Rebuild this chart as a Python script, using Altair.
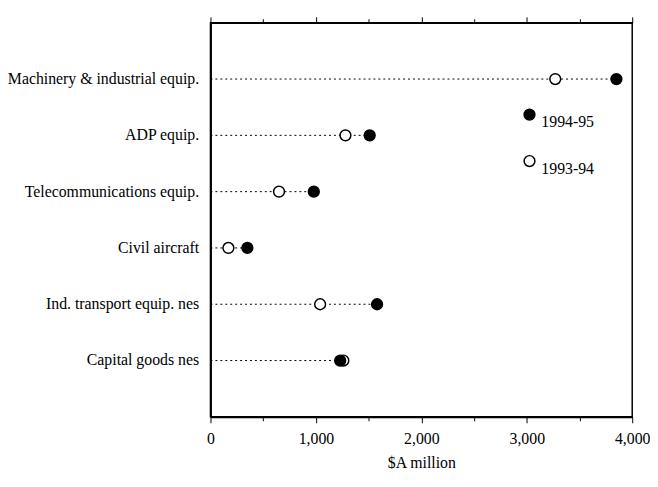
import altair as alt
import pandas as pd

categories = [
    "Machinery & industrial equip.",
    "ADP equip.",
    "Telecommunications equip.",
    "Civil aircraft",
    "Ind. transport equip. nes",
    "Capital goods nes",
]
v_1993_94 = [3270, 1280, 650, 170, 1040, 1260]
v_1994_95 = [3850, 1510, 980, 350, 1580, 1230]
series = ["1994-95", "1993-94"]
x_ticks = [0, 500, 1000, 1500, 2000, 2500, 3000, 3500, 4000]

FONT = "serif"

rules = pd.DataFrame({
    "cat": categories,
    "lo": [0] * len(categories),
    "hi": [max(a, b) for a, b in zip(v_1993_94, v_1994_95)],
})
points = pd.DataFrame({
    "cat": categories + categories,
    "value": v_1993_94 + v_1994_95,
    "year": ["1993-94"] * len(categories) + ["1994-95"] * len(categories),
})

xscale = alt.Scale(domain=[0, 4000], nice=False, zero=False)
yscale = alt.Scale(domain=categories, padding=1)

tick_size_cond = {"condition": {"test": "datum.value % 1000 === 0", "value": 6}, "value": 4}

x_bottom = alt.Axis(
    orient="bottom", values=x_ticks,
    labelExpr="datum.value % 1000 === 0 ? format(datum.value, ',') : ''",
    title="$A million", grid=False, ticks=True, tickSize=tick_size_cond,
    tickColor="black", domainColor="black", domainWidth=2,
    labelFont=FONT, labelFontSize=16, labelColor="black", labelPadding=8,
    labelFlush=False, labelOverlap=False,
    titleFont=FONT, titleFontSize=16, titleFontWeight="normal", titleColor="black",
    titlePadding=8,
)
x_top = alt.Axis(
    orient="top", values=x_ticks, labels=False, title=None, grid=False,
    ticks=True, tickSize=tick_size_cond, tickColor="black",
    domainColor="black", domainWidth=1.5,
)
y_axis = alt.Axis(
    title=None, ticks=False, grid=False, domainColor="black", domainWidth=2,
    labelFont=FONT, labelFontSize=16, labelColor="black", labelPadding=12,
    labelLimit=0,
)

rule_layer = alt.Chart(rules).mark_rule(
    color="black", strokeDash=[2, 3], strokeWidth=1
).encode(
    x=alt.X("lo:Q", scale=xscale, axis=x_bottom),
    x2="hi:Q",
    y=alt.Y("cat:N", scale=yscale, sort=categories, axis=y_axis),
)

point_layer = alt.Chart(points).mark_point(
    filled=True, shape="circle", size=120, stroke="black", strokeWidth=1.5, opacity=1
).encode(
    x=alt.X("value:Q", scale=xscale, axis=x_top),
    y=alt.Y("cat:N", scale=yscale, sort=categories, axis=y_axis),
    fill=alt.Fill(
        "year:N",
        scale=alt.Scale(domain=series, range=["black", "white"]),
        legend=alt.Legend(
            title=None, orient="none", legendX=315, legendY=85,
            symbolType="circle", symbolSize=120, symbolStrokeColor="black",
            symbolStrokeWidth=1.5, labelFont=FONT, labelFontSize=16,
            labelColor="black", labelBaseline="top", labelOffset=4,
            rowPadding=22,
        ),
    ),
)

chart = alt.layer(rule_layer, point_layer).resolve_axis(x="independent").properties(
    width=427, height=399,
    autosize=alt.AutoSizeParams(type="none"),
    padding={"left": 205, "top": 12, "right": 18, "bottom": 60},
    background="white",
).configure_view(stroke="black", strokeWidth=1.5)

chart.save("out.html", embed_options={"renderer": "svg", "actions": False})
